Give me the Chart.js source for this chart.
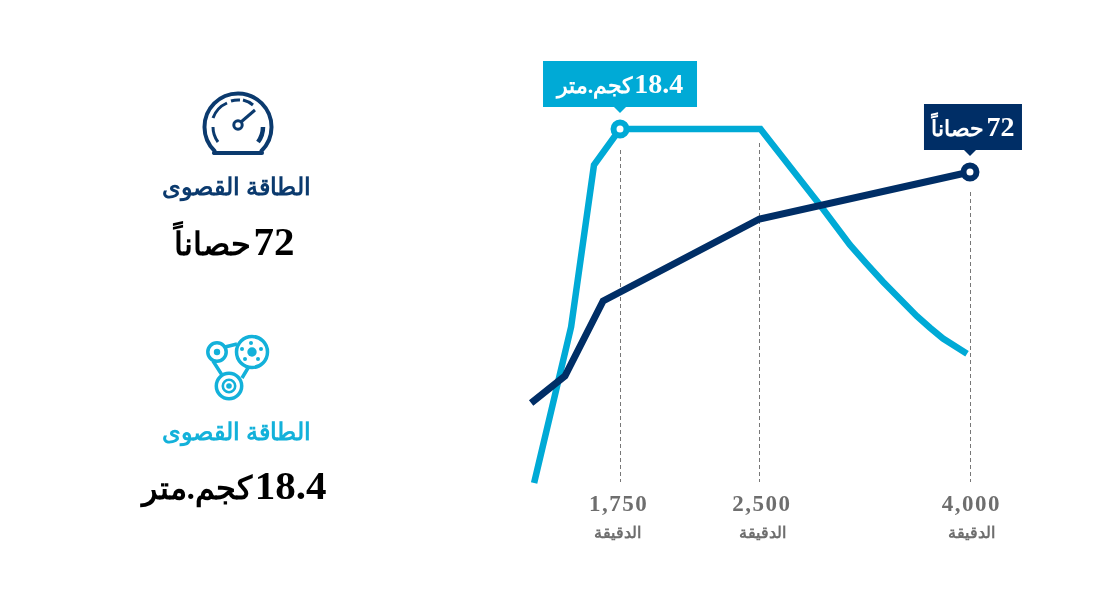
<!DOCTYPE html>
<html lang="ar">
<head>
<meta charset="utf-8">
<style>
  html, body { margin: 0; padding: 0; background: #fff; }
  #wrap { position: relative; width: 1120px; height: 600px; overflow: hidden; }
  #chart { position: absolute; left: 0; top: 0; }
  .stat { position: absolute; left: 97px; width: 276px; text-align: center; font-family: "Liberation Serif", serif; font-weight: bold; direction: rtl; }
  .stat .name { position: absolute; left: 1px; right: -1px; font-size: 24px; line-height: 30px; }
  .stat .val { position: absolute; left: -1px; right: 1px; font-size: 32px; line-height: 48px; color: #000; white-space: nowrap; }
  .stat .num { font-size: 41px; margin-left: 3px; }
  svg { position: absolute; left: 0; top: 0; }
</style>
</head>
<body>
<div id="wrap">
  <canvas id="chart" width="1120" height="600"></canvas>
  <svg width="1120" height="600" fill="none">
    <g stroke="#0b3a6e" stroke-width="4">
      <path d="M214 153 L262 153 L261.4 151 A33.5 33.5 0 1 0 214.6 151 Z" stroke-linejoin="round"/>
      <path d="M218 142 A25 25 0 0 1 213 127" stroke-width="3"/>
      <path d="M213 118 A26 26 0 0 1 227 103" stroke-width="3"/>
      <path d="M231 101 A25 25 0 0 1 240 100" stroke-width="3"/>
      <path d="M243 100 A25 25 0 0 1 253 105" stroke-width="3"/>
      <path d="M263 127 A25 25 0 0 1 258 142" stroke-width="4.5"/>
      <circle cx="238" cy="125" r="4.2" stroke-width="3"/>
      <path d="M241 122 L255 110" stroke-width="3"/>
    </g>
    <g stroke="#13b1da" stroke-width="3.5">
      <circle cx="252" cy="352" r="15.5"/>
      <circle cx="217" cy="352" r="9.2"/>
      <circle cx="229" cy="386" r="12.7"/>
      <circle cx="229" cy="386" r="6.2" stroke-width="2.6"/>
      <path d="M225 347 L237 344 M213 361 L222 375 M248 368 L242 378"/>
    </g>
    <g fill="#13b1da">
      <circle cx="252" cy="352" r="4.7"/><circle cx="217" cy="352" r="3.2"/><circle cx="229" cy="386" r="2.8"/>
      <circle cx="251" cy="343" r="2"/><circle cx="242" cy="349" r="2"/><circle cx="261" cy="349" r="2"/>
      <circle cx="245" cy="359" r="2"/><circle cx="258" cy="359" r="2"/>
    </g>
  </svg>
  <div class="stat" style="top:172px;height:100px">
    <div class="name" id="name1" style="top:0;color:#0b3a6e"></div>
    <div class="val" style="top:45px"><span class="num" id="num1"></span><span id="unit1"></span></div>
  </div>
  <div class="stat" style="top:417px;height:100px">
    <div class="name" id="name2" style="top:0;color:#13b1da"></div>
    <div class="val" style="top:44px"><span class="num" id="num2"></span><span id="unit2"></span></div>
  </div>
</div>
<script src="https://cdn.jsdelivr.net/npm/chart.js@4/dist/chart.umd.min.js"></script>
<script>
// Data
const torqueRpm = [1288, 1487, 1610, 1750, 2507, 2931, 3145, 3264, 3380, 3501, 3622, 3715, 3808, 3979];
const torqueKgm = [9.55, 13.45, 17.5, 18.4, 18.4, 16.5, 15.5, 15.03, 14.58, 14.15, 13.72, 13.43, 13.16, 12.78];
const powerRpm = [1272, 1454, 1659, 2500, 4000];
const powerHp = [25.8, 31.2, 46.2, 62.6, 72];
const tickRpm = [1750, 2500, 4000];
const tickLabels = ['1,750', '2,500', '4,000'];
const unitLabel = 'الدقيقة';
const statName = 'الطاقة القصوى';
const powerNum = '72';
const powerUnit = 'حصاناً';
const torqueNum = '18.4';
const torqueUnit = 'كجم.متر';

const NAVY = '#002e66';
const CYAN = '#00aad6';
const GREY = '#6e6e6e';
const FONT = '"Liberation Serif", serif';

document.getElementById('name1').textContent = statName;
document.getElementById('name2').textContent = statName;
document.getElementById('num1').textContent = powerNum;
document.getElementById('unit1').textContent = powerUnit;
document.getElementById('num2').textContent = torqueNum;
document.getElementById('unit2').textContent = torqueUnit;

// the rpm axis of the original is not to scale: each labelled stop has its own share of the width
const stopShare = [0.2308, 0.4990, 0.9038];
class StopScale extends Chart.LinearScale {
    static id = 'stops';
    static defaults = {};
    getPixelForValue(v) {
        let i = 0;
        if (v > tickRpm[1]) i = 1;
        const f = (v - tickRpm[i]) / (tickRpm[i + 1] - tickRpm[i]);
        const share = stopShare[i] + f * (stopShare[i + 1] - stopShare[i]);
        return this.left + share * this.width;
    }
}
Chart.register(StopScale);

// dashed drop lines and the rpm labels
const dropLines = {
    id: 'dropLines',
    beforeDatasetsDraw(chart) {
        const { ctx, scales: { x } } = chart;
        const starts = [150, 143, 192];
        ctx.save();
        ctx.strokeStyle = '#777';
        ctx.lineWidth = 1;
        ctx.setLineDash([4, 3]);
        tickRpm.forEach((r, i) => {
            const px = Math.round(x.getPixelForValue(r)) + 0.5;
            ctx.beginPath();
            ctx.moveTo(px, starts[i]);
            ctx.lineTo(px, 482);
            ctx.stroke();
        });
        ctx.restore();
    },
    afterDraw(chart) {
        const { ctx, scales: { x } } = chart;
        const numShift = [-1.5, 2.5, 1.5];
        const unitShift = [-3, 3.5, 2];
        ctx.save();
        ctx.fillStyle = GREY;
        ctx.textAlign = 'center';
        ctx.textBaseline = 'alphabetic';
        tickRpm.forEach((r, i) => {
            const px = x.getPixelForValue(r);
            ctx.font = 'bold 23px ' + FONT;
            ctx.letterSpacing = '1.5px';
            ctx.fillText(tickLabels[i], px + numShift[i], 511);
            ctx.letterSpacing = '0px';
            ctx.font = 'bold 16px ' + FONT;
            ctx.fillText(unitLabel, px + unitShift[i], 538);
        });
        ctx.restore();
    }
};

// the two coloured callouts above the marked points
const callouts = {
    id: 'callouts',
    afterDraw(chart) {
        const { ctx, scales } = chart;
        const items = [
            { px: scales.x.getPixelForValue(1750), py: scales.yTorque.getPixelForValue(18.4), num: torqueNum, unit: torqueUnit, color: CYAN, w: 154, dx: 0 },
            { px: scales.x.getPixelForValue(4000), py: scales.yPower.getPixelForValue(72), num: powerNum, unit: powerUnit, color: NAVY, w: 98, dx: 3 }
        ];
        items.forEach(it => {
            const tip = it.py - 16;
            const bottom = tip - 6;
            const top = bottom - 46;
            const left = it.px - it.w / 2 + it.dx;
            ctx.save();
            ctx.fillStyle = it.color;
            ctx.fillRect(left, top, it.w, 46);
            ctx.beginPath();
            ctx.moveTo(it.px - 6, bottom);
            ctx.lineTo(it.px + 6, bottom);
            ctx.lineTo(it.px, tip);
            ctx.closePath();
            ctx.fill();
            // digits on the right, unit on the left, both centred as one block
            ctx.fillStyle = '#fff';
            ctx.textBaseline = 'alphabetic';
            ctx.textAlign = 'left';
            const numFont = 'bold 28px ' + FONT;
            const unitFont = 'bold 22px ' + FONT;
            ctx.font = numFont;
            const numW = ctx.measureText(it.num).width;
            ctx.font = unitFont;
            ctx.direction = 'rtl';
            const unitW = ctx.measureText(it.unit).width;
            const gap = 2;
            const start = left + (it.w - numW - unitW - gap) / 2;
            ctx.textAlign = 'right';
            ctx.fillText(it.unit, start + unitW, top + 31.5);
            ctx.direction = 'ltr';
            ctx.textAlign = 'left';
            ctx.font = numFont;
            ctx.fillText(it.num, start + unitW + gap, top + 31.5);
            ctx.restore();
        });
    }
};

function markOnly(rpms, mark) {
    return ctx => (rpms[ctx.dataIndex] === mark ? 6.5 : 0);
}

new Chart(document.getElementById('chart'), {
    type: 'line',
    data: {
        datasets: [
            {
                label: 'torque',
                data: torqueRpm.map((r, i) => ({ x: r, y: torqueKgm[i] })),
                yAxisID: 'yTorque',
                borderColor: CYAN,
                borderWidth: 6.5,
                borderCapStyle: 'butt',
                borderJoinStyle: 'miter',
                tension: 0,
                pointRadius: markOnly(torqueRpm, 1750),
                pointBackgroundColor: '#fff',
                pointBorderColor: CYAN,
                pointBorderWidth: 6,
                order: 2
            },
            {
                label: 'power',
                data: powerRpm.map((r, i) => ({ x: r, y: powerHp[i] })),
                yAxisID: 'yPower',
                borderColor: NAVY,
                borderWidth: 7,
                borderCapStyle: 'butt',
                borderJoinStyle: 'miter',
                tension: 0,
                pointRadius: markOnly(powerRpm, 4000),
                pointBackgroundColor: '#fff',
                pointBorderColor: NAVY,
                pointBorderWidth: 6,
                order: 1
            }
        ]
    },
    options: {
        responsive: false,
        animation: false,
        layout: { padding: { left: 500, right: 100, top: 29, bottom: 71 } },
        plugins: { legend: { display: false }, tooltip: { enabled: false } },
        scales: {
            x: { type: 'stops', display: false, min: 1000, max: 4500 },
            yTorque: { type: 'linear', display: false, min: 8.4, max: 20.9 },
            yPower: { type: 'linear', display: false, min: 0.6, max: 100.6 }
        }
    },
    plugins: [dropLines, callouts]
});
</script>
</body>
</html>
